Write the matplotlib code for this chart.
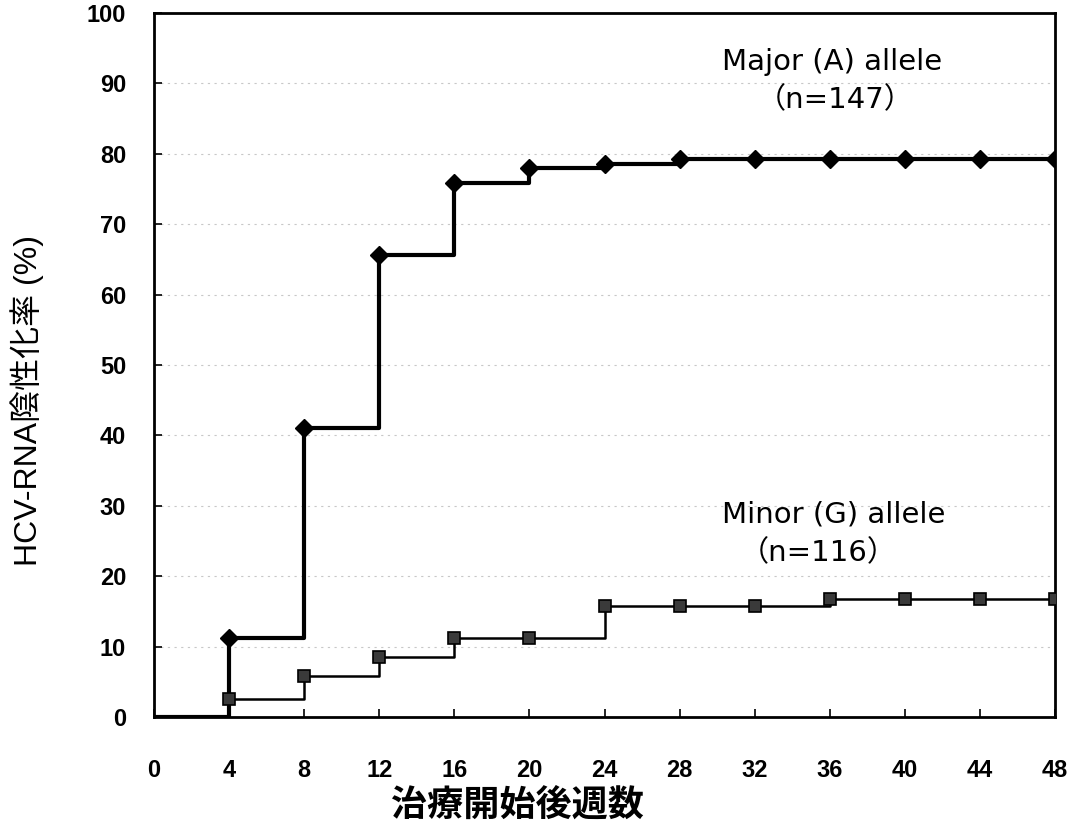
import matplotlib
matplotlib.use("Agg")
import matplotlib.pyplot as plt

weeks = [0, 4, 8, 12, 16, 20, 24, 28, 32, 36, 40, 44, 48]
major = [0, 11.2, 41.0, 65.6, 75.9, 78.0, 78.6, 79.2, 79.2, 79.2, 79.2, 79.2, 79.2]
minor = [0, 2.6, 5.8, 8.5, 11.2, 11.2, 15.7, 15.7, 15.8, 16.8, 16.8, 16.8, 16.8]
xticks = [0, 4, 8, 12, 16, 20, 24, 28, 32, 36, 40, 44, 48]
yticks = [0, 10, 20, 30, 40, 50, 60, 70, 80, 90, 100]
xlabel = "治療開始後週数"
ylabel = "HCV-RNA陰性化率 (%)"
major_label = ["Major (A) allele", "（n=147）"]
minor_label = ["Minor (G) allele", "（n=116）"]

fams = ["Liberation Sans", "Noto Sans CJK JP", "DejaVu Sans"]
plt.rcParams['font.family'] = fams

fig = plt.figure(figsize=(10.70, 8.31), dpi=100)
ax = fig.add_axes([154/1070, 114/831, (1055-154)/1070, (717-13)/831])

ax.step(weeks, major, where='post', color='black', lw=3.0, zorder=3)
ax.plot(weeks[1:], major[1:], ls='none', marker='D', ms=9, color='black', zorder=4)
ax.step(weeks, minor, where='post', color='black', lw=1.8, zorder=3)
ax.plot(weeks[1:], minor[1:], ls='none', marker='s', ms=8, mfc='#3a3a3a',
        mec='black', mew=1.2, zorder=4)

ax.set_xlim(0, 48)
ax.set_ylim(0, 100)
ax.set_xticks(xticks)
ax.set_yticks(yticks)
ax.set_xticklabels([str(v) for v in xticks], fontsize=17, fontweight='bold')
ax.set_yticklabels([str(v) for v in yticks], fontsize=17, fontweight='bold')
ax.tick_params(axis='x', direction='in', length=6, width=1.2, pad=30)
ax.tick_params(axis='y', direction='in', length=6, width=1.2, pad=20)
ax.yaxis.grid(True, color='#c8c8c8', ls=(0, (2, 4)), lw=0.8)
ax.set_axisbelow(True)
for s in ax.spines.values():
    s.set_linewidth(2.0)

afam = ["DejaVu Sans", "Noto Sans CJK JP"]
ax.text(36.1, 93.0, major_label[0], fontsize=21, ha='center', va='center', family=afam)
ax.text(36.3, 87.6, major_label[1], fontsize=21, ha='center', va='center', family=afam)
ax.text(36.2, 28.7, minor_label[0], fontsize=21, ha='center', va='center', family=afam)
ax.text(35.4, 23.3, minor_label[1], fontsize=21, ha='center', va='center', family=afam)

fig.text(517/1070, 1 - 805/831, xlabel, fontsize=26, fontweight='bold',
         ha='center', va='center', family=["Noto Sans CJK JP", "DejaVu Sans"])
fig.text(27/1070, 1 - 401/831, ylabel, fontsize=23, rotation=90,
         ha='center', va='center', family=["Liberation Sans", "Noto Sans CJK JP"])

fig.savefig("out.png", dpi=100)
